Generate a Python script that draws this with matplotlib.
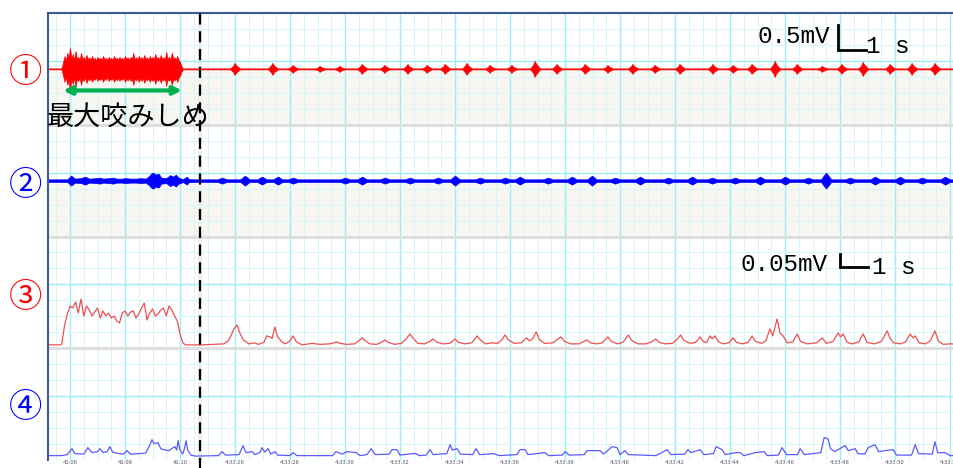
import matplotlib.pyplot as plt
import numpy as np

plt.rcParams['font.family'] = ['Noto Sans CJK JP', 'DejaVu Sans']

# time axis: seconds from the left edge of the sweep
tick_t = [0.8, 2.8, 4.8, 6.8, 8.8, 10.8, 12.8, 14.8, 16.8, 18.8,
          20.8, 22.8, 24.8, 26.8, 28.8, 30.8, 32.8]
tick_labels = ["41:06", "41:08", "41:10", "4:33:26", "4:33:28", "4:33:30",
               "4:33:32", "4:33:34", "4:33:36", "4:33:38", "4:33:40",
               "4:33:42", "4:33:44", "4:33:46", "4:33:48", "4:33:50",
               "4:33:52"]
gap_t = 5.53                 # splice between the two recordings
clench_t = (0.55, 4.87)      # maximum clench

channel_names = ["①", "②", "③", "④"]
channel_colors = ["#ff0000", "#0000ff", "#ff0000", "#0000ff"]

# raw EMG, peak amplitude (uV) at each knot
ch1 = [
    (0.0, 10), (0.45, 10),
    (0.50, 20), (0.55, 140), (0.60, 260), (0.65, 160), (0.70, 320), (0.75, 240),
    (0.80, 420), (0.85, 200), (0.90, 300), (0.95, 180), (1.00, 360), (1.05, 200),
    (1.10, 240), (1.15, 180), (1.20, 320), (1.25, 200), (1.30, 240), (1.35, 170),
    (1.40, 280), (1.45, 200), (1.50, 230), (1.55, 180), (1.60, 260), (1.65, 190),
    (1.70, 220), (1.75, 170), (1.80, 240), (1.85, 200), (1.90, 220), (1.95, 180),
    (2.00, 260), (2.05, 190), (2.10, 220), (2.15, 170), (2.20, 240), (2.25, 200),
    (2.30, 220), (2.35, 180), (2.40, 260), (2.45, 190), (2.50, 230), (2.55, 180),
    (2.60, 240), (2.65, 190), (2.70, 220), (2.75, 170), (2.80, 260), (2.85, 200),
    (2.90, 230), (2.95, 180), (3.00, 240), (3.05, 200), (3.10, 320), (3.15, 190),
    (3.20, 230), (3.25, 190), (3.30, 260), (3.35, 200), (3.40, 240), (3.45, 180),
    (3.50, 280), (3.55, 200), (3.60, 230), (3.65, 190), (3.70, 260), (3.75, 200),
    (3.80, 240), (3.85, 190), (3.90, 300), (3.95, 200), (4.00, 240), (4.05, 190),
    (4.10, 280), (4.15, 200), (4.20, 230), (4.25, 190), (4.30, 340), (4.35, 200),
    (4.40, 240), (4.45, 190), (4.50, 320), (4.55, 210), (4.60, 230), (4.65, 190),
    (4.70, 260), (4.75, 180), (4.80, 140), (4.85, 60), (4.90, 10),
    (6.62, 10), (6.73, 60), (6.78, 120), (6.85, 70), (6.98, 10),
    (8.00, 10), (8.11, 70), (8.16, 120), (8.23, 60), (8.36, 10),
    (8.73, 10), (8.84, 40), (8.89, 80), (8.96, 44), (9.09, 10),
    (9.71, 10), (9.82, 30), (9.87, 60), (9.94, 36), (10.07, 10),
    (10.44, 10), (10.55, 36), (10.60, 60), (10.67, 30), (10.80, 10),
    (11.24, 10), (11.35, 50), (11.40, 100), (11.47, 60), (11.60, 10),
    (12.07, 10), (12.18, 44), (12.23, 80), (12.30, 40), (12.43, 10),
    (12.91, 10), (13.02, 56), (13.07, 100), (13.14, 50), (13.27, 10),
    (13.60, 10), (13.71, 40), (13.76, 80), (13.83, 48), (13.96, 10),
    (14.26, 10), (14.37, 50), (14.42, 100), (14.49, 60), (14.62, 10),
    (15.06, 10), (15.17, 70), (15.22, 120), (15.29, 60), (15.42, 10),
    (15.89, 10), (16.00, 40), (16.05, 80), (16.12, 44), (16.25, 10),
    (16.69, 10), (16.80, 44), (16.85, 80), (16.92, 40), (17.05, 10),
    (17.53, 10), (17.64, 80), (17.69, 160), (17.76, 96), (17.89, 10),
    (18.33, 10), (18.44, 56), (18.49, 100), (18.56, 50), (18.69, 10),
    (19.35, 10), (19.46, 50), (19.51, 100), (19.58, 60), (19.71, 10),
    (20.18, 10), (20.29, 40), (20.34, 80), (20.41, 44), (20.54, 10),
    (21.09, 10), (21.20, 56), (21.25, 100), (21.32, 50), (21.45, 10),
    (21.89, 10), (22.00, 40), (22.05, 80), (22.12, 48), (22.25, 10),
    (22.80, 10), (22.91, 50), (22.96, 100), (23.03, 60), (23.16, 10),
    (24.00, 10), (24.11, 56), (24.16, 100), (24.23, 50), (24.36, 10),
    (24.73, 10), (24.84, 40), (24.89, 80), (24.96, 44), (25.09, 10),
    (25.42, 10), (25.53, 50), (25.58, 100), (25.65, 60), (25.78, 10),
    (26.26, 10), (26.37, 90), (26.42, 160), (26.49, 80), (26.62, 10),
    (27.06, 10), (27.17, 50), (27.22, 100), (27.29, 56), (27.42, 10),
    (27.97, 10), (28.08, 30), (28.13, 60), (28.20, 36), (28.33, 10),
    (28.69, 10), (28.80, 56), (28.85, 100), (28.92, 50), (29.05, 10),
    (29.46, 10), (29.57, 70), (29.62, 140), (29.69, 80), (29.82, 10),
    (30.44, 10), (30.55, 50), (30.60, 100), (30.67, 56), (30.80, 10),
    (31.24, 10), (31.35, 66), (31.40, 120), (31.47, 60), (31.60, 10),
    (32.07, 10), (32.18, 60), (32.23, 120), (32.30, 70), (32.43, 10),
    (33.3, 10),
]

ch2 = [
    (0.0, 26), (0.7, 26), (0.84, 100), (0.98, 40), (1.2, 50), (1.35, 80),
    (1.5, 40), (1.75, 50), (1.89, 60), (2.0, 40), (2.25, 50), (2.36, 60),
    (2.5, 40), (2.7, 40), (2.8, 50), (3.0, 40), (3.2, 40), (3.35, 50),
    (3.55, 40), (3.65, 80), (3.75, 140), (3.82, 160), (3.92, 120), (4.02, 140),
    (4.12, 60), (4.3, 50), (4.44, 110), (4.55, 80), (4.65, 120), (4.75, 60),
    (4.9, 30), (5.0, 60), (5.05, 80), (5.12, 30), (5.3, 26),
    (6.16, 26), (6.33, 60), (6.50, 26), (6.99, 26), (7.16, 100), (7.33, 26),
    (7.61, 26), (7.78, 80), (7.95, 26), (8.19, 26), (8.36, 80), (8.53, 26),
    (8.74, 26), (8.91, 60), (9.08, 26), (10.63, 26), (10.80, 60), (10.97, 26),
    (11.25, 26), (11.42, 80), (11.59, 26), (12.08, 26), (12.25, 60), (12.42, 26),
    (12.99, 26), (13.16, 60), (13.33, 26), (14.01, 26), (14.18, 60), (14.35, 26),
    (14.63, 26), (14.80, 100), (14.97, 26), (15.54, 26), (15.71, 60), (15.88, 26),
    (16.45, 26), (16.62, 60), (16.79, 26), (16.99, 26), (17.16, 80), (17.33, 26),
    (18.01, 26), (18.18, 60), (18.35, 26), (18.88, 26), (19.05, 80), (19.22, 26),
    (19.61, 26), (19.78, 100), (19.95, 26), (20.45, 26), (20.62, 60), (20.79, 26),
    (21.36, 26), (21.53, 80), (21.70, 26), (22.38, 26), (22.55, 60), (22.72, 26),
    (23.25, 26), (23.42, 80), (23.59, 26), (23.98, 26), (24.15, 60), (24.32, 26),
    (24.81, 26), (24.98, 60), (25.15, 26), (25.72, 26), (25.89, 80), (26.06, 26),
    (26.63, 26), (26.80, 80), (26.97, 26), (27.47, 26), (27.64, 60), (27.81, 26),
    (28.10, 26), (28.29, 160), (28.48, 26), (28.99, 26), (29.16, 60), (29.33, 26),
    (29.90, 26), (30.07, 80), (30.24, 26), (30.81, 26), (30.98, 80), (31.15, 26),
    (31.61, 26), (31.78, 60), (31.95, 26), (32.45, 26), (32.62, 80), (32.79, 26),
    (33.3, 26),
]

# RMS envelopes (uV)
ch3 = [
    (0.0, 4), (0.45, 4), (0.5, 8), (0.6, 80), (0.7, 128), (0.8, 160),
    (0.9, 152), (1.0, 176), (1.1, 132), (1.2, 188), (1.3, 120), (1.4, 160),
    (1.5, 144), (1.6, 120), (1.7, 136), (1.8, 152), (1.9, 112), (2.0, 140),
    (2.1, 120), (2.2, 132), (2.3, 112), (2.4, 120), (2.5, 100), (2.6, 92),
    (2.7, 132), (2.8, 140), (2.9, 120), (3.0, 136), (3.1, 140), (3.2, 112),
    (3.3, 128), (3.4, 152), (3.5, 172), (3.6, 104), (3.7, 132), (3.8, 148),
    (3.9, 120), (4.0, 128), (4.1, 144), (4.2, 152), (4.3, 120), (4.4, 160),
    (4.5, 144), (4.6, 120), (4.7, 100), (4.8, 48), (4.9, 12), (5.0, 4),
    (5.6, 4), (6.0, 6), (6.4, 8), (6.55, 20), (6.65, 40), (6.75, 66),
    (6.87, 84), (6.98, 50), (7.1, 24), (7.3, 8), (7.5, 12), (7.65, 6),
    (7.85, 14), (7.95, 40), (8.07, 36), (8.15, 30), (8.25, 76), (8.35, 36),
    (8.5, 16), (8.62, 8), (8.78, 18), (8.91, 40), (9.03, 16), (9.24, 4),
    (9.6, 10), (9.9, 6), (10.25, 8), (10.4, 12), (10.5, 16), (10.62, 10),
    (10.85, 6), (11.15, 8), (11.3, 20), (11.42, 32), (11.52, 22), (11.7, 8),
    (11.95, 6), (12.12, 14), (12.25, 24), (12.37, 14), (12.6, 6), (12.85, 10),
    (13.02, 28), (13.16, 48), (13.28, 30), (13.45, 10), (13.7, 8), (13.88, 18),
    (14.0, 28), (14.12, 16), (14.35, 8), (14.6, 10), (14.72, 20), (14.8, 28),
    (14.92, 14), (15.15, 8), (15.4, 12), (15.5, 24), (15.6, 40), (15.7, 26),
    (15.9, 8), (16.15, 12), (16.35, 10), (16.5, 24), (16.62, 44), (16.74, 24),
    (16.95, 10), (17.2, 12), (17.32, 24), (17.4, 32), (17.5, 20), (17.62, 28),
    (17.75, 56), (17.86, 26), (18.05, 10), (18.35, 12), (18.5, 24), (18.65, 36),
    (18.78, 18), (19.0, 8), (19.3, 8), (19.45, 16), (19.6, 24), (19.72, 12),
    (19.95, 8), (20.15, 12), (20.25, 24), (20.36, 36), (20.48, 18), (20.7, 8),
    (20.9, 14), (21.0, 28), (21.1, 44), (21.22, 22), (21.45, 8), (21.75, 8),
    (21.95, 16), (22.1, 28), (22.22, 14), (22.45, 8), (22.7, 10), (22.88, 26),
    (23.0, 44), (23.12, 22), (23.35, 10), (23.55, 14), (23.71, 36), (23.83, 16),
    (23.95, 14), (24.07, 40), (24.15, 28), (24.25, 40), (24.38, 16), (24.55, 8),
    (24.75, 12), (24.91, 32), (25.03, 14), (25.25, 8), (25.45, 14), (25.6, 40),
    (25.72, 18), (25.95, 10), (26.1, 20), (26.25, 68), (26.35, 40), (26.51, 108),
    (26.62, 50), (26.73, 40), (26.88, 12), (27.08, 16), (27.24, 48), (27.36, 18),
    (27.6, 8), (27.95, 12), (28.15, 32), (28.3, 10), (28.55, 18), (28.73, 52),
    (28.82, 36), (28.91, 48), (29.05, 14), (29.25, 8), (29.48, 16), (29.64, 48),
    (29.78, 14), (30.05, 8), (30.3, 18), (30.51, 60), (30.62, 30), (30.75, 12),
    (31.0, 8), (31.18, 16), (31.35, 48), (31.45, 32), (31.53, 40), (31.68, 12),
    (31.9, 8), (32.08, 20), (32.25, 60), (32.38, 18), (32.55, 6), (32.8, 8),
    (33.3, 6),
]

ch4 = [
    (0.0, 8), (0.5, 8), (0.7, 12), (0.87, 36), (0.98, 16), (1.3, 14),
    (1.45, 40), (1.6, 20), (1.8, 24), (1.89, 36), (2.0, 20), (2.15, 24),
    (2.25, 44), (2.35, 22), (2.6, 16), (2.75, 14), (2.87, 28), (3.0, 14),
    (3.3, 16), (3.55, 18), (3.7, 50), (3.78, 72), (3.85, 56), (4.0, 60),
    (4.1, 36), (4.2, 32), (4.4, 28), (4.55, 40), (4.62, 44), (4.68, 30),
    (4.73, 68), (4.8, 30), (4.9, 14), (4.97, 40), (5.02, 68), (5.08, 30),
    (5.2, 10), (5.35, 6), (6.2, 8), (6.33, 24), (6.45, 10), (6.95, 12),
    (7.09, 48), (7.2, 20), (7.42, 24), (7.52, 12), (7.7, 20), (7.78, 40),
    (7.88, 22), (8.0, 36), (8.1, 14), (8.25, 24), (8.35, 10), (8.8, 8),
    (8.91, 20), (9.05, 8), (10.35, 8), (10.47, 24), (10.7, 14), (10.87, 24),
    (11.2, 20), (11.35, 8), (11.6, 12), (11.75, 36), (11.9, 12), (12.4, 14),
    (12.51, 32), (12.69, 32), (12.8, 10), (13.24, 16), (13.38, 16), (13.5, 8),
    (13.75, 10), (13.89, 32), (14.0, 12), (14.5, 16), (14.62, 52), (14.7, 30),
    (14.87, 36), (15.0, 14), (15.45, 12), (15.56, 36), (15.7, 12), (16.2, 16),
    (16.4, 8), (17.05, 12), (17.16, 32), (17.35, 32), (17.45, 12), (18.07, 20),
    (18.2, 8), (18.7, 10), (18.8, 24), (18.95, 10), (19.5, 12), (19.6, 28),
    (19.93, 28), (20.07, 28), (20.2, 14), (20.51, 44), (20.69, 40), (20.8, 12),
    (20.98, 28), (21.1, 12), (22.1, 8), (22.25, 16), (22.51, 32), (22.65, 12),
    (23.15, 14), (23.27, 32), (23.38, 20), (23.71, 32), (23.85, 12), (24.2, 16),
    (24.29, 44), (24.51, 32), (24.62, 12), (25.02, 20), (25.16, 20), (25.3, 8),
    (25.71, 20), (26.04, 24), (26.15, 8), (26.55, 10), (26.69, 40), (26.85, 12),
    (27.25, 12), (27.35, 36), (27.5, 12), (28.1, 20), (28.22, 80), (28.36, 76),
    (28.45, 36), (28.6, 24), (28.73, 32), (28.98, 48), (29.1, 28), (29.35, 36),
    (29.45, 16), (29.7, 14), (29.82, 40), (30.07, 52), (30.2, 24), (30.44, 28),
    (30.73, 32), (30.85, 10), (31.4, 10), (31.53, 52), (31.65, 16), (32.15, 14),
    (32.25, 64), (32.35, 20), (32.62, 20), (32.8, 8), (33.3, 8),
]

# calibration bars
raw_bar_mv = 0.5
env_bar_mv = 0.05
bar_s = 1

# vertical layout, in grid divisions (7 per channel)
RAW_GAIN = 3.12     # div per mV
ENV_GAIN = 15.6
ch_top = [28, 21, 14, 7]
raw_base = [24.5, 17.5]
env_base = [7.15, 0.15]

fig = plt.figure(figsize=(9.54, 4.68), dpi=100)
ax = fig.add_axes([48 / 954, 8 / 468, 912 / 954, 447 / 468])
ax.set_xlim(0, 33.16)
ax.set_ylim(0, 28)

# chart paper
ax.set_xticks(tick_t, tick_labels)
ax.set_xticks(np.arange(0.3, 33.2, 0.5), minor=True)
ax.set_yticks([4, 11, 18, 25])
ax.set_yticks(np.arange(0, 28, 1), minor=True)
ax.set_yticklabels([])
ax.tick_params(which='both', length=0)
ax.tick_params(axis='x', labelsize=4.3, labelcolor='#5a5a6a', pad=0.3)
ax.set_axisbelow(True)
ax.grid(which='minor', color='#d6f6fa', lw=0.7)
ax.grid(which='major', color='#9ceef5', lw=1.0)

for s in ['right', 'bottom']:
    ax.spines[s].set_visible(False)
for s in ['left', 'top']:
    ax.spines[s].set_color('#3a5a98')
    ax.spines[s].set_linewidth(1.5)

for b, top in zip(raw_base, ch_top[:2]):
    ax.axhspan(top - 7, b, color='#f7f6f1', zorder=0.2, lw=0)
for y in [7, 14, 21]:
    ax.axhline(y, color='#dedede', lw=2.2, zorder=0.6)
ax.axvspan(gap_t - 0.08, gap_t + 0.08, color='#ededed', zorder=0.3, lw=0)

# raw traces
for data, b, c in zip([ch1, ch2], raw_base, channel_colors[:2]):
    t, uv = np.array(data, dtype=float).T
    a = uv / 1000 * RAW_GAIN
    ax.fill_between(t, b - a, b + a, color=c, lw=0.5, zorder=2)

# envelopes
for data, b, c in zip([ch3, ch4], env_base, ['#f05050', '#5a5aff']):
    t, uv = np.array(data, dtype=float).T
    ax.plot(t, b + uv / 1000 * ENV_GAIN, color=c, lw=0.9, zorder=2)

ax.axvline(gap_t, ymin=-0.03, ymax=1, color='black', lw=1.6,
           ls=(0, (5, 3)), zorder=4, clip_on=False)

# channel numbers
for name, y, c in zip(channel_names, [24.3, 17.2, 10.15, 3.3], channel_colors):
    ax.text(-0.8, y, name, color=c, fontsize=24, ha='center', va='center',
            clip_on=False)

ax.annotate('', xy=(clench_t[0], 23.15), xytext=(clench_t[1], 23.15),
            arrowprops=dict(arrowstyle='<|-|>', color='#00b050', lw=3,
                            mutation_scale=12, shrinkA=0, shrinkB=0),
            zorder=5)
ax.text(-0.05, 21.45, '最大咬みしめ', fontsize=19.5, color='black',
        ha='left', va='center', zorder=5)

# calibration bars
mono = ['Liberation Mono', 'DejaVu Sans Mono']
x0, y0 = 28.73, 25.69
ax.plot([x0, x0, x0 + bar_s], [y0 + raw_bar_mv * RAW_GAIN, y0, y0],
        color='black', lw=2, solid_joinstyle='miter', zorder=5)
ax.text(x0 - 0.3, 26.12, f'{raw_bar_mv}mV', family=mono, fontsize=17.5,
        ha='right', va='baseline')
ax.text(x0 + bar_s + 0.02, 25.5, f'{bar_s} s', family=mono, fontsize=17.5,
        ha='left', va='baseline')

x0, y0 = 28.8, 12.1
ax.plot([x0, x0, x0 + bar_s], [y0 + env_bar_mv * ENV_GAIN, y0, y0],
        color='black', lw=2, solid_joinstyle='miter', zorder=5)
ax.text(x0 - 0.45, 11.85, f'{env_bar_mv}mV', family=mono, fontsize=17.5,
        ha='right', va='baseline')
ax.text(x0 + bar_s + 0.15, 11.66, f'{bar_s} s', family=mono, fontsize=17.5,
        ha='left', va='baseline')

fig.savefig('out.png', dpi=100)
